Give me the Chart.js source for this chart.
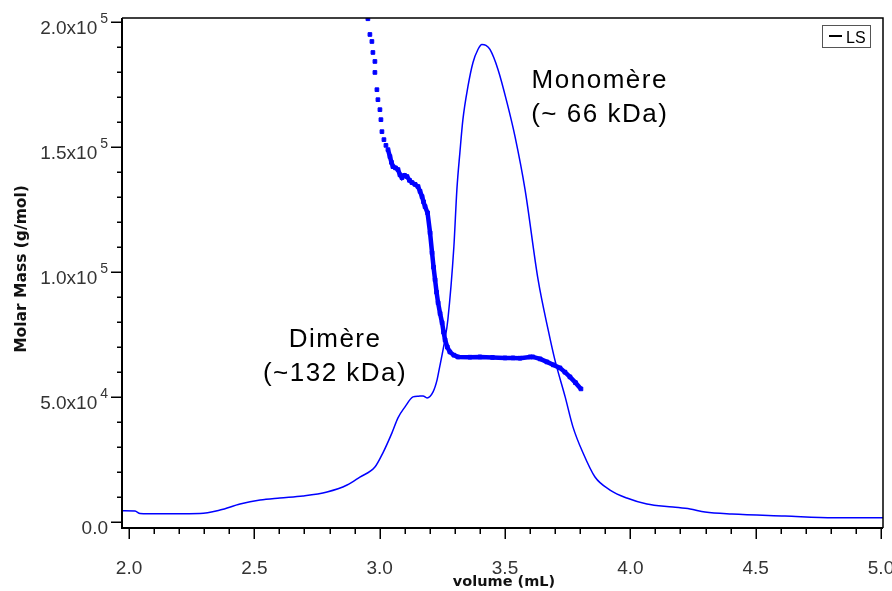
<!DOCTYPE html>
<html><head><meta charset="utf-8">
<script src="https://cdn.jsdelivr.net/npm/chart.js@4"></script>
<style>html,body{margin:0;padding:0;background:#fff}</style>
</head><body>
<canvas id="c" width="892" height="591"></canvas>
<script>
// ---- data ----
const lsVolume = [1.976, 2.024, 2.044, 2.076, 2.18, 2.283, 2.363, 2.443, 2.523, 2.602, 2.694, 2.790, 2.870, 2.921, 2.981, 3.013, 3.049, 3.073, 3.101, 3.133, 3.155, 3.173, 3.189, 3.213, 3.229, 3.237, 3.260, 3.272, 3.296, 3.308, 3.320, 3.332, 3.352, 3.372, 3.392, 3.408, 3.424, 3.440, 3.472, 3.508, 3.540, 3.580, 3.632, 3.672, 3.699, 3.740, 3.771, 3.811, 3.859, 3.919, 3.986, 4.066, 4.170, 4.238, 4.298, 4.405, 4.617, 4.812, 5.008];
const lsSignal = [4500, 4400, 3400, 3300, 3300, 3400, 4800, 7200, 8800, 9600, 10400, 12000, 14800, 18000, 22000, 27700, 35700, 41700, 46100, 50100, 50400, 50500, 49700, 52100, 56900, 60900, 72900, 81000, 110200, 133100, 147900, 161100, 174300, 183900, 189200, 191200, 190800, 189200, 181200, 167900, 154300, 133100, 97000, 77000, 64900, 50100, 38100, 27700, 18000, 12800, 9600, 7200, 6000, 5200, 4000, 3200, 2400, 1700, 1700];

const massVolume = [2.953, 2.961, 2.969, 2.973, 2.981, 2.981, 2.989, 2.993, 3.001, 3.005, 3.009, 3.017, 3.025, 3.033, 3.041, 3.047, 3.053, 3.063, 3.073, 3.081, 3.089, 3.099, 3.109, 3.119, 3.129, 3.141, 3.153, 3.161, 3.169, 3.175, 3.181, 3.191, 3.201, 3.209, 3.215, 3.221, 3.227, 3.233, 3.241, 3.249, 3.255, 3.261, 3.270, 3.280, 3.296, 3.312, 3.36, 3.40, 3.45, 3.50, 3.532, 3.56, 3.60, 3.611, 3.64, 3.667, 3.693, 3.719, 3.739, 3.759, 3.781, 3.803];
const molarMass = [201500, 195200, 192400, 188000, 184400, 180000, 173100, 169100, 165100, 161100, 156300, 153100, 150800, 149100, 146300, 144000, 142300, 141800, 141100, 139000, 137900, 138800, 138300, 136800, 135900, 135200, 134300, 132400, 130300, 128200, 126300, 123800, 115800, 107800, 102000, 97000, 92000, 87800, 83500, 79800, 76000, 72900, 70000, 68100, 66800, 66100, 66000, 66100, 65900, 65700, 65700, 65600, 66100, 66100, 65300, 64100, 62900, 61700, 60000, 58100, 55800, 53300];

const xMajorTicks = [2.0, 2.5, 3.0, 3.5, 4.0, 4.5, 5.0];
const xTickLabels = ['2.0', '2.5', '3.0', '3.5', '4.0', '4.5', '5.0'];
const yMajorTicks = [0, 50000, 100000, 150000, 200000];
const yTickMantissa = ['0.0', '5.0x10', '1.0x10', '1.5x10', '2.0x10'];
const yTickExponent = ['', '4', '5', '5', '5'];
const xTitle = 'volume (mL)';
const yTitle = 'Molar Mass (g/mol)';
const legendLabel = 'LS';
const noteMonomer = ['Monomère', '(~ 66 kDa)'];
const noteDimer = ['Dimère', '(~132 kDa)'];
const noteMonomerAt = [3.878, 173950];
const noteDimerAt = [2.822, 70140];

const BLUE = 'rgb(0,0,255)';

const lsData = lsVolume.map((x, i) => ({x, y: lsSignal[i]}));
const massData = massVolume.map((x, i) => ({x, y: molarMass[i]}));

const decor = {
  id: 'decor',
  afterDraw(chart) {
    const ctx = chart.ctx, a = chart.chartArea;
    const xs = chart.scales.x, ys = chart.scales.y;
    ctx.save();
    // frame
    ctx.strokeStyle = '#000';
    ctx.lineWidth = 1.5;
    ctx.beginPath();
    ctx.moveTo(a.left, a.top); ctx.lineTo(a.right, a.top); ctx.lineTo(a.right, a.bottom);
    ctx.stroke();
    ctx.lineWidth = 2;
    ctx.beginPath();
    ctx.moveTo(a.left, a.top); ctx.lineTo(a.left, a.bottom); ctx.lineTo(a.right, a.bottom);
    ctx.stroke();
    // ticks
    ctx.lineWidth = 1.5;
    ctx.beginPath();
    for (let v = 0; v <= 200000; v += 10000) {
      const py = Math.round(ys.getPixelForValue(v)) + 0.25;
      const major = v % 50000 === 0;
      ctx.moveTo(a.left, py); ctx.lineTo(a.left - (major ? 11 : 5), py);
    }
    for (let k = 20; k <= 50; k++) {
      const px = Math.round(xs.getPixelForValue(k / 10)) + 0.25;
      const major = k % 5 === 0;
      ctx.moveTo(px, a.bottom); ctx.lineTo(px, a.bottom + (major ? 11 : 6));
    }
    ctx.stroke();
    // y tick labels
    ctx.fillStyle = '#333';
    ctx.textBaseline = 'alphabetic';
    yMajorTicks.forEach((v, i) => {
      const py = ys.getPixelForValue(v);
      let right = a.left - 14;
      if (yTickExponent[i]) {
        ctx.font = '14px "Liberation Sans", Arial, sans-serif';
        ctx.textAlign = 'right';
        ctx.fillText(yTickExponent[i], right, py + 1);
        right -= ctx.measureText(yTickExponent[i]).width + 3;
      }
      ctx.font = '19px "Liberation Sans", Arial, sans-serif';
      ctx.textAlign = 'right';
      ctx.fillText(yTickMantissa[i], right, py + 12);
    });
    // x tick labels
    ctx.font = '19px "Liberation Sans", Arial, sans-serif';
    ctx.textAlign = 'center';
    xMajorTicks.forEach((v, i) => {
      ctx.fillText(xTickLabels[i], xs.getPixelForValue(v), 574);
    });
    // axis titles
    ctx.fillStyle = '#111';
    ctx.font = 'bold 14.5px "DejaVu Sans", Verdana, sans-serif';
    ctx.textAlign = 'center';
    ctx.fillText(xTitle, 504, 586);
    ctx.save();
    ctx.font = 'bold 15.5px "DejaVu Sans", Verdana, sans-serif';
    ctx.translate(26, 269);
    ctx.rotate(-Math.PI / 2);
    ctx.fillText(yTitle, 0, 0);
    ctx.restore();
    // legend
    ctx.strokeStyle = '#555';
    ctx.lineWidth = 1;
    ctx.strokeRect(822.5, 25.5, 48, 22);
    ctx.strokeStyle = '#000';
    ctx.lineWidth = 2;
    ctx.beginPath(); ctx.moveTo(829, 36); ctx.lineTo(842, 36); ctx.stroke();
    ctx.fillStyle = '#000';
    ctx.font = '16px "Liberation Sans", Arial, sans-serif';
    ctx.textAlign = 'left';
    ctx.fillText(legendLabel, 846, 43);
    // annotations
    ctx.font = '26px "Liberation Sans", Arial, sans-serif';
    ctx.textAlign = 'center';
    try { ctx.letterSpacing = '1.5px'; } catch (e) {}
    ctx.fillStyle = '#000';
    [[noteMonomer, noteMonomerAt], [noteDimer, noteDimerAt]].forEach(([lines, at]) => {
      const px = xs.getPixelForValue(at[0]), py = ys.getPixelForValue(at[1]);
      lines.forEach((t, j) => ctx.fillText(t, px, py + j * 34));
    });
    ctx.restore();
  }
};

new Chart(document.getElementById('c'), {
  type: 'scatter',
  data: {
    datasets: [
      {
        label: 'LS',
        data: lsData,
        showLine: true,
        borderColor: BLUE,
        borderWidth: 1.5,
        pointRadius: 0,
        cubicInterpolationMode: 'monotone'
      },
      {
        label: 'Molar mass',
        data: massData,
        showLine: true,
        borderColor: BLUE,
        backgroundColor: BLUE,
        borderWidth: 4.5,
        pointStyle: 'rect',
        pointRadius: 2.6,
        pointBorderWidth: 1,
        pointBorderColor: BLUE,
        pointBackgroundColor: BLUE,
        segment: {
          borderColor: c => c.p0.parsed.x < 3.03 ? 'rgba(0,0,0,0)' : BLUE
        }
      }
    ]
  },
  options: {
    responsive: false,
    animation: false,
    devicePixelRatio: 1,
    layout: {padding: {top: 18, right: 9, left: 0, bottom: 0}},
    plugins: {legend: {display: false}, tooltip: {enabled: false}},
    scales: {
      x: {
        type: 'linear', min: 1.972, max: 5.008,
        grid: {display: false}, border: {display: false},
        ticks: {display: false},
        afterFit: s => { s.height = 63; }
      },
      y: {
        type: 'linear', min: -2400, max: 201800,
        grid: {display: false}, border: {display: false},
        ticks: {display: false},
        afterFit: s => { s.width = 122; }
      }
    }
  },
  plugins: [decor]
});
</script>
</body></html>
